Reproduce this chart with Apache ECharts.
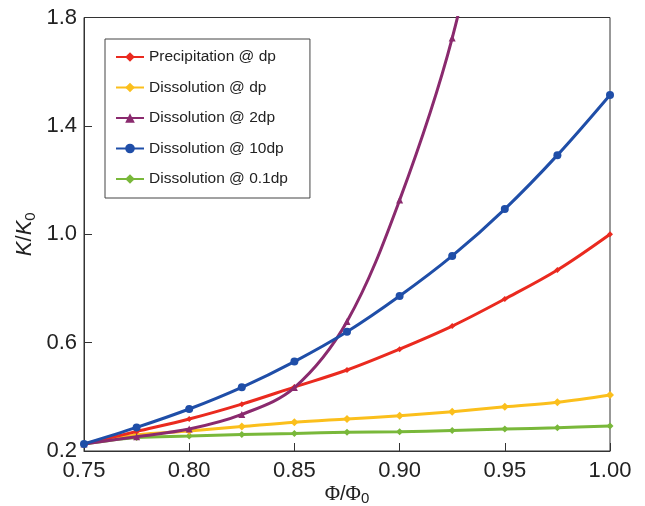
<!DOCTYPE html>
<html>
<head>
<meta charset="utf-8">
<script src="https://cdn.jsdelivr.net/npm/echarts@6/dist/echarts.min.js"></script>
<style>html,body{margin:0;padding:0;background:#fff}#c{width:645px;height:506px}</style>
</head>
<body>
<div id="c"></div>
<script>
var phiValues = [0.75, 0.775, 0.80, 0.825, 0.85, 0.875, 0.90, 0.925, 0.95, 0.975, 1.00];
var precipDp   = [0.226, 0.272, 0.318, 0.373, 0.436, 0.499, 0.576, 0.661, 0.761, 0.868, 1.00];
var dissolDp   = [0.226, 0.259, 0.274, 0.290, 0.306, 0.318, 0.330, 0.345, 0.363, 0.380, 0.407];
var dissol2dp  = [0.226, 0.253, 0.281, 0.335, 0.434, 0.678, 1.126, 1.724, 2.60, null, null];
var dissol10dp = [0.226, 0.287, 0.355, 0.435, 0.530, 0.640, 0.772, 0.920, 1.093, 1.292, 1.514];
var dissol01dp = [0.226, 0.250, 0.255, 0.261, 0.265, 0.269, 0.271, 0.276, 0.281, 0.286, 0.292];
var seriesNames = ['Precipitation @ dp', 'Dissolution @ dp', 'Dissolution @ 2dp', 'Dissolution @ 10dp', 'Dissolution @ 0.1dp'];
var xTicks = [0.75, 0.80, 0.85, 0.90, 0.95, 1.00];
var yTicks = [0.2, 0.6, 1.0, 1.4, 1.8];

function pairs(vals) { return phiValues.map(function (x, i) { return [x, vals[i]]; }); }
var colors = ['#ea2a1f', '#fbbf1c', '#8a2a6e', '#1f4ea8', '#79b83a'];
var symbols = ['diamond', 'diamond', 'triangle', 'circle', 'diamond'];
var sizes = [6, 8, 7, 8, 7];
var allVals = [precipDp, dissolDp, dissol2dp, dissol10dp, dissol01dp];
var order = [4, 1, 0, 2, 3];

var series = seriesNames.map(function (n, i) {
  return {
    name: n, type: 'line', data: pairs(allVals[i]), smooth: 0.35,
    symbol: symbols[i], symbolSize: sizes[i], showSymbol: true,
    lineStyle: { color: colors[i], width: 3 },
    itemStyle: { color: colors[i] },
    z: 2 + order.indexOf(i), clip: true, animation: false
  };
});

var chart = echarts.init(document.getElementById('c'), null, { renderer: 'canvas' });
chart.setOption({
  animation: false,
  backgroundColor: '#fff',
  grid: { left: 84, right: 35, top: 17.5, bottom: 55, outerBoundsMode: 'none', containLabel: false,
    show: true, borderColor: '#333', borderWidth: 1, backgroundColor: 'transparent' },
  legend: {
    orient: 'vertical', left: 105, top: 39,
    data: seriesNames,
    itemWidth: 28, itemHeight: 12, itemGap: 14.5,
    padding: [10, 22, 11, 10],
    borderColor: '#444', borderWidth: 1, backgroundColor: '#fff',
    textStyle: { fontFamily: 'Liberation Sans', fontSize: 15.5, color: '#222' }
  },
  xAxis: {
    type: 'value', min: xTicks[0], max: xTicks[xTicks.length - 1], interval: 0.05,
    splitLine: { show: false },
    axisLine: { lineStyle: { color: '#333', width: 1 } },
    axisTick: { inside: true, length: 8, lineStyle: { color: '#333' } },
    axisLabel: { fontFamily: 'Liberation Sans', fontSize: 22, color: '#222', margin: 9,
      formatter: function (v) { return v.toFixed(2); } },
    name: '{g|Φ}{n|/}{g|Φ}{sub|0}', nameLocation: 'middle', nameGap: 33, nameMoveOverlap: false,
    nameTextStyle: { rich: {
      g: { fontFamily: 'Liberation Serif', fontSize: 21, color: '#222', verticalAlign: 'top', lineHeight: 20 },
      n: { fontFamily: 'Liberation Sans', fontSize: 20, color: '#222', verticalAlign: 'top', lineHeight: 20 },
      sub: { fontFamily: 'Liberation Sans', fontSize: 15, color: '#222', verticalAlign: 'top', lineHeight: 15, padding: [7, 0, 0, 0] }
    } }
  },
  yAxis: {
    type: 'value', min: yTicks[0], max: yTicks[yTicks.length - 1], interval: 0.4,
    splitLine: { show: false },
    axisLine: { show: true, lineStyle: { color: '#333', width: 1 } },
    axisTick: { show: true, inside: true, length: 8, lineStyle: { color: '#333' } },
    axisLabel: { fontFamily: 'Liberation Sans', fontSize: 22, color: '#222', margin: 7,
      formatter: function (v) { return v.toFixed(1); } },
    name: '{i|K}{n|/}{i|K}{sub|0}', nameLocation: 'middle', nameGap: 47, nameRotate: 90, nameMoveOverlap: false,
    nameTextStyle: { rich: {
      i: { fontFamily: 'Liberation Sans', fontStyle: 'italic', fontSize: 22, color: '#222', verticalAlign: 'top', lineHeight: 23 },
      n: { fontFamily: 'Liberation Sans', fontSize: 22, color: '#222', verticalAlign: 'top', lineHeight: 23 },
      sub: { fontFamily: 'Liberation Sans', fontSize: 15, color: '#222', verticalAlign: 'top', lineHeight: 15, padding: [9, 0, 0, 0] }
    } }
  },
  series: series
});
</script>
</body>
</html>
